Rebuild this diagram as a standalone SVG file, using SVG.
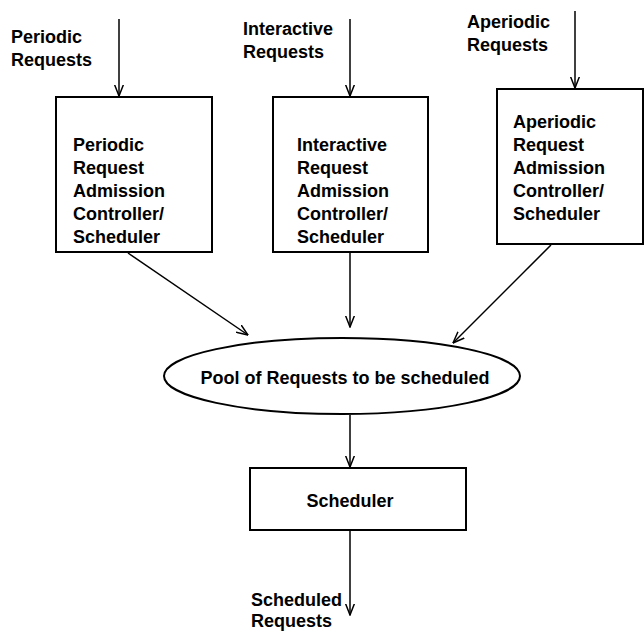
<svg xmlns="http://www.w3.org/2000/svg" width="644" height="632" viewBox="0 0 644 632">
<style>
  .box { fill: #fff; stroke: #000; stroke-width: 2; }
  .lbl { font-family: "Liberation Sans", Arial, sans-serif; font-weight: bold; font-size: 18px; fill: #000; }
  .edge { stroke: #000; stroke-width: 1.5; fill: none; marker-end: url(#arr); }
</style>
<defs>
  <marker id="arr" viewBox="0 0 12 10" refX="11.5" refY="5" markerWidth="12" markerHeight="10" markerUnits="userSpaceOnUse" orient="auto">
    <path d="M0,0.5 L11.5,5 L0,9.5" fill="none" stroke="#000" stroke-width="1.5"/>
  </marker>
</defs>
<rect width="644" height="632" fill="#fff"/>

<g id="connectors">
  <line class="edge" x1="119" y1="19" x2="119" y2="96"/>
  <line class="edge" x1="350" y1="19" x2="350" y2="96"/>
  <line class="edge" x1="575" y1="11" x2="575" y2="88"/>
  <line class="edge" x1="128" y1="253" x2="248" y2="335"/>
  <line class="edge" x1="350" y1="253" x2="350" y2="327"/>
  <line class="edge" x1="551" y1="245" x2="453" y2="343"/>
  <line class="edge" x1="350" y1="415" x2="350" y2="467"/>
  <line class="edge" x1="350" y1="531" x2="350" y2="615"/>
</g>

<g id="label-periodic">
  <text class="lbl" x="11" y="43">Periodic</text>
  <text class="lbl" x="11" y="66">Requests</text>
</g>
<g id="label-interactive">
  <text class="lbl" x="243" y="35">Interactive</text>
  <text class="lbl" x="243" y="58">Requests</text>
</g>
<g id="label-aperiodic">
  <text class="lbl" x="467" y="28">Aperiodic</text>
  <text class="lbl" x="467" y="51">Requests</text>
</g>

<g id="periodic-controller">
  <rect class="box" x="56" y="97" width="156" height="155"/>
  <text class="lbl" x="73" y="151">Periodic</text>
  <text class="lbl" x="73" y="174">Request</text>
  <text class="lbl" x="73" y="197">Admission</text>
  <text class="lbl" x="73" y="220">Controller/</text>
  <text class="lbl" x="73" y="243">Scheduler</text>
</g>

<g id="interactive-controller">
  <rect class="box" x="273" y="97" width="155" height="155"/>
  <text class="lbl" x="297" y="151">Interactive</text>
  <text class="lbl" x="297" y="174">Request</text>
  <text class="lbl" x="297" y="197">Admission</text>
  <text class="lbl" x="297" y="220">Controller/</text>
  <text class="lbl" x="297" y="243">Scheduler</text>
</g>

<g id="aperiodic-controller">
  <rect class="box" x="497" y="89" width="146" height="155"/>
  <text class="lbl" x="513" y="128">Aperiodic</text>
  <text class="lbl" x="513" y="151">Request</text>
  <text class="lbl" x="513" y="174">Admission</text>
  <text class="lbl" x="513" y="197">Controller/</text>
  <text class="lbl" x="513" y="220">Scheduler</text>
</g>

<g id="pool">
  <ellipse class="box" cx="342" cy="376" rx="178" ry="38"/>
  <text class="lbl" x="345" y="384" text-anchor="middle">Pool of Requests to be scheduled</text>
</g>

<g id="scheduler">
  <rect class="box" x="250" y="468" width="216" height="62"/>
  <text class="lbl" x="350" y="507" text-anchor="middle">Scheduler</text>
</g>

<g id="label-scheduled">
  <text class="lbl" x="251" y="606">Scheduled</text>
  <text class="lbl" x="251" y="627">Requests</text>
</g>
</svg>
